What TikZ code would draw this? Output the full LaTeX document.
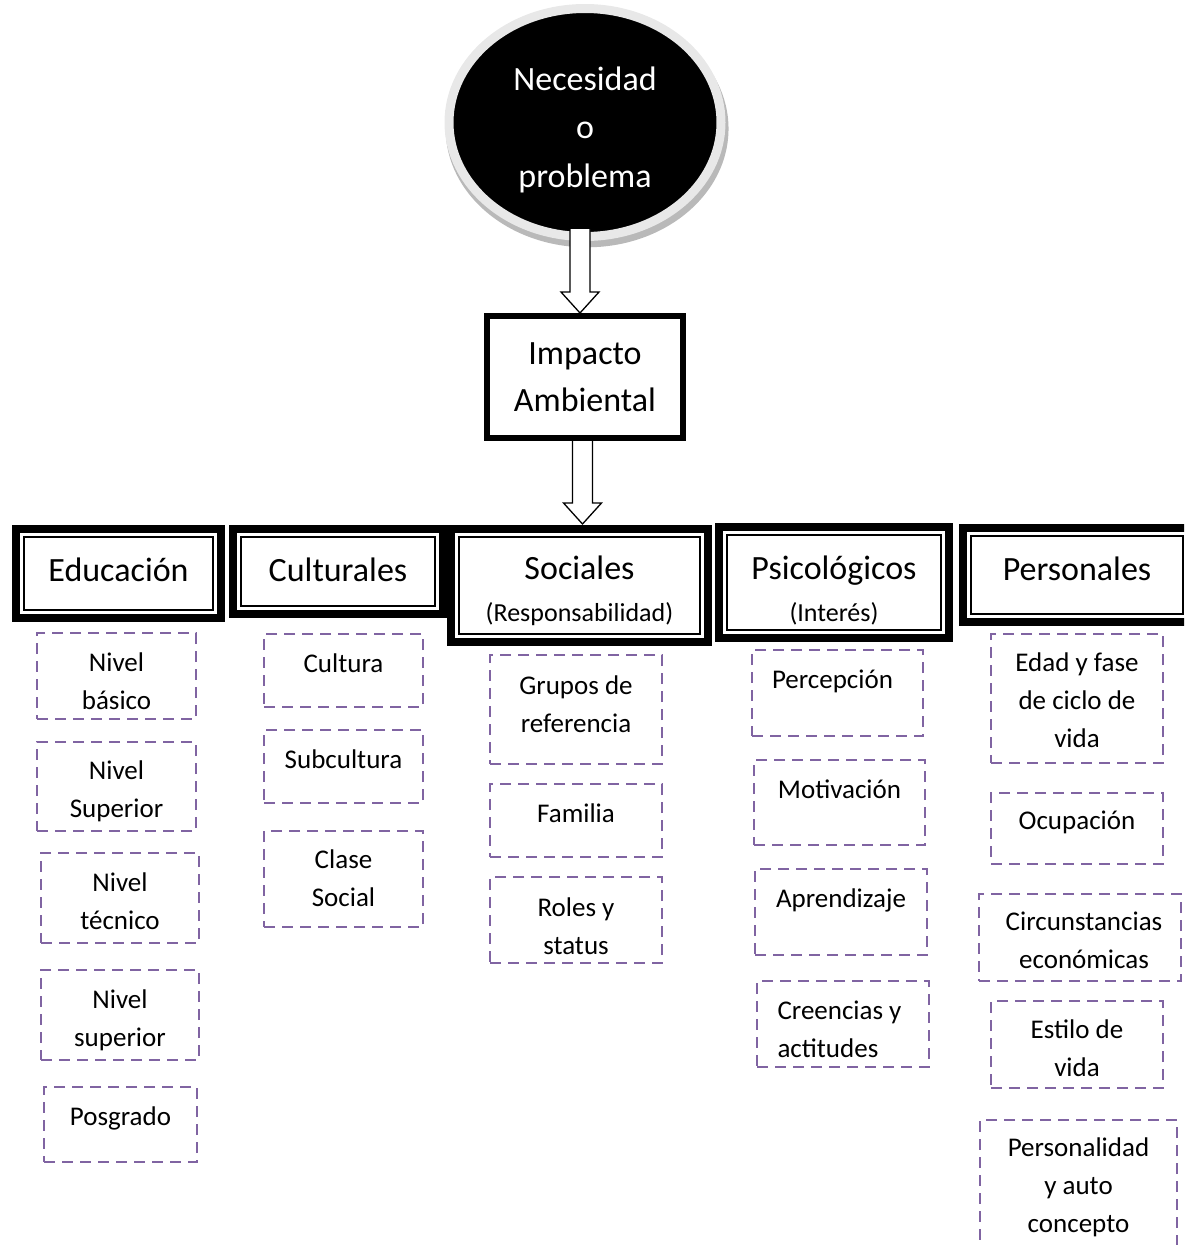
\documentclass[tikz,border=0pt]{standalone}
\usepackage{fontspec}
\setmainfont{Carlito}
\usetikzlibrary{shapes.geometric,shadows,fit,calc}
\definecolor{dpurple}{HTML}{8064A2}
\newcommand{\sst}{\rule[-9.5pt]{0pt}{38pt}}
\newcommand{\dbx}[8]{%
  \node[dbox, fit={(#2,#3) (#4,#5)}] (#1) {};
  \node[stxt] (#1t) at ([xshift=#6pt,yshift=#7pt]#1.center) {#8};}
\begin{document}
\begin{tikzpicture}[x=1pt,y=-1pt,
  dbox/.style={draw=dpurple, line width=2.4pt, dash pattern=on 11pt off 7pt, inner sep=0pt},
  stxt/.style={font=\fontsize{27}{38}\selectfont, align=center, inner sep=0pt},
  hdr/.style={draw=black, fill=white, line width=8pt, inner sep=0pt, align=center,
    font=\fontsize{34}{42}\selectfont,
    path picture={\draw[line width=1.8pt]
      ([shift={(8pt,-8pt)}]path picture bounding box.north west) rectangle
      ([shift={(-8pt,8pt)}]path picture bounding box.south east);}},
  blockarrow/.style={draw=black, fill=white, line width=1.3pt, line join=miter,
    to path={let \p1=(\tikztostart), \p2=(\tikztotarget) in
      (\x2-10pt,\y1) -- (\x2-10pt,\y2+21pt) -- (\x2-19pt,\y2+21pt) -- (\x2,\y2)
      -- (\x2+19pt,\y2+21pt) -- (\x2+10pt,\y2+21pt) -- (\x2+10pt,\y1)}}
]
\useasboundingbox (0,0) rectangle (1184,1245);
\clip (0,0) rectangle (1184,1245);

% top ellipse
\node[ellipse, fill=black, draw=gray!18, line width=9pt, minimum width=272pt,
  minimum height=228pt, inner sep=0pt, text=white, align=center,
  font=\fontsize{34}{48.5}\selectfont,
  drop shadow={shadow xshift=2pt, shadow yshift=-6pt, shadow scale=1.04, fill=gray!55, opacity=1}]
  (nec) at (585,122.5) {\rule{0pt}{42pt}Necesidad\\o\\problema\rule[-10pt]{0pt}{10pt}};

% Impacto Ambiental
\node[draw=black, line width=6pt, inner sep=0pt, minimum width=196pt, minimum height=122pt,
  align=center, font=\fontsize{34}{47}\selectfont]
  (imp) at (585,377) {\rule{0pt}{30pt}Impacto\\Ambiental\rule[-9pt]{0pt}{9pt}};

% headers
\node[hdr, minimum width=205pt, minimum height=89pt] (edu) at (118.5,573.5)
  {\rule[-15pt]{0pt}{45pt}Educación};
\node[hdr, minimum width=210pt, minimum height=85pt] (cul) at (338,571.5)
  {\rule[-13pt]{0pt}{45pt}Culturales};
\node[hdr, minimum width=257pt, minimum height=113pt] (soc) at (579.5,585.5)
  {\rule{0pt}{37pt}Sociales\\{\fontsize{26}{42}\selectfont (Responsabilidad)\rule[-8pt]{0pt}{8pt}}};
\node[hdr, minimum width=230pt, minimum height=111pt] (psi) at (834,582.5)
  {\rule{0pt}{43pt}Psicológicos\\{\fontsize{26}{42}\selectfont (Interés)\rule[-8pt]{0pt}{8pt}}};
\node[hdr, minimum width=228pt, minimum height=94pt] (per) at (1077,575)
  {\rule[-18pt]{0pt}{46pt}Personales};

% block arrows
\draw[blockarrow] ([yshift=12pt]nec.south) to ([xshift=-5pt]imp.north);
\draw[blockarrow] (imp.south) to ([xshift=3pt,yshift=1pt]soc.north);

% Educacion column
\dbx{e1}{37}{633}{196}{719}{0}{-5}{\sst Nivel\\\sst básico}
\dbx{e2}{37}{742}{196}{831}{0}{-2}{\sst Nivel\\\sst Superior}
\dbx{e3}{41}{853}{199}{943}{0}{-3}{\sst Nivel\\\sst técnico}
\dbx{e4}{41}{970}{199}{1060}{0}{-2.5}{\sst Nivel\\\sst superior}
\dbx{e5}{44}{1087}{197}{1162}{0}{8.5}{\sst Posgrado}

% Culturales column
\dbx{c1}{264}{634}{423}{707}{0}{7.5}{\sst Cultura}
\dbx{c2}{264}{730}{423}{803}{0}{7.5}{\sst Subcultura}
\dbx{c3}{264}{831}{423}{927}{0}{1}{\sst Clase\\\sst Social}

% Sociales column
\dbx{s1}{490}{655}{662}{764}{0}{6}{\sst Grupos de\\\sst referencia}
\dbx{s2}{490}{784}{662}{857}{0}{7.5}{\sst Familia}
\dbx{s3}{490}{877}{662}{963}{0}{-5.5}{\sst Roles y\\\sst status}

% Psicologicos column
\dbx{p1}{752}{650}{923}{736}{-5}{14}{\sst Percepción}
\dbx{p2}{754}{760}{925}{845}{0}{13.5}{\sst Motivación}
\dbx{p3}{755}{869}{927}{955}{0}{14}{\sst Aprendizaje}
\node[dbox, fit={(757,981) (929,1067)}] (p4) {};
\node[stxt, align=left] (p4t) at ([xshift=-3.5pt,yshift=-4.5pt]p4.center) {\sst Creencias y\\\sst actitudes};

% Personales column
\dbx{q1}{991}{634}{1163}{763}{0}{-1.5}{\sst Edad y fase\\\sst de ciclo de\\\sst vida}
\dbx{q2}{991}{793}{1163}{864}{0}{8.5}{\sst Ocupación}
\dbx{q3}{979}{894}{1181}{981}{4}{-2.5}{\sst Circunstancias\\\sst económicas}
\dbx{q4}{991}{1001}{1163}{1088}{0}{-3}{\sst Estilo de\\\sst vida}
\dbx{q5}{980}{1120}{1177}{1265}{0}{7.5}{\sst Personalidad\\\sst y auto\\\sst concepto}
\end{tikzpicture}
\end{document}
